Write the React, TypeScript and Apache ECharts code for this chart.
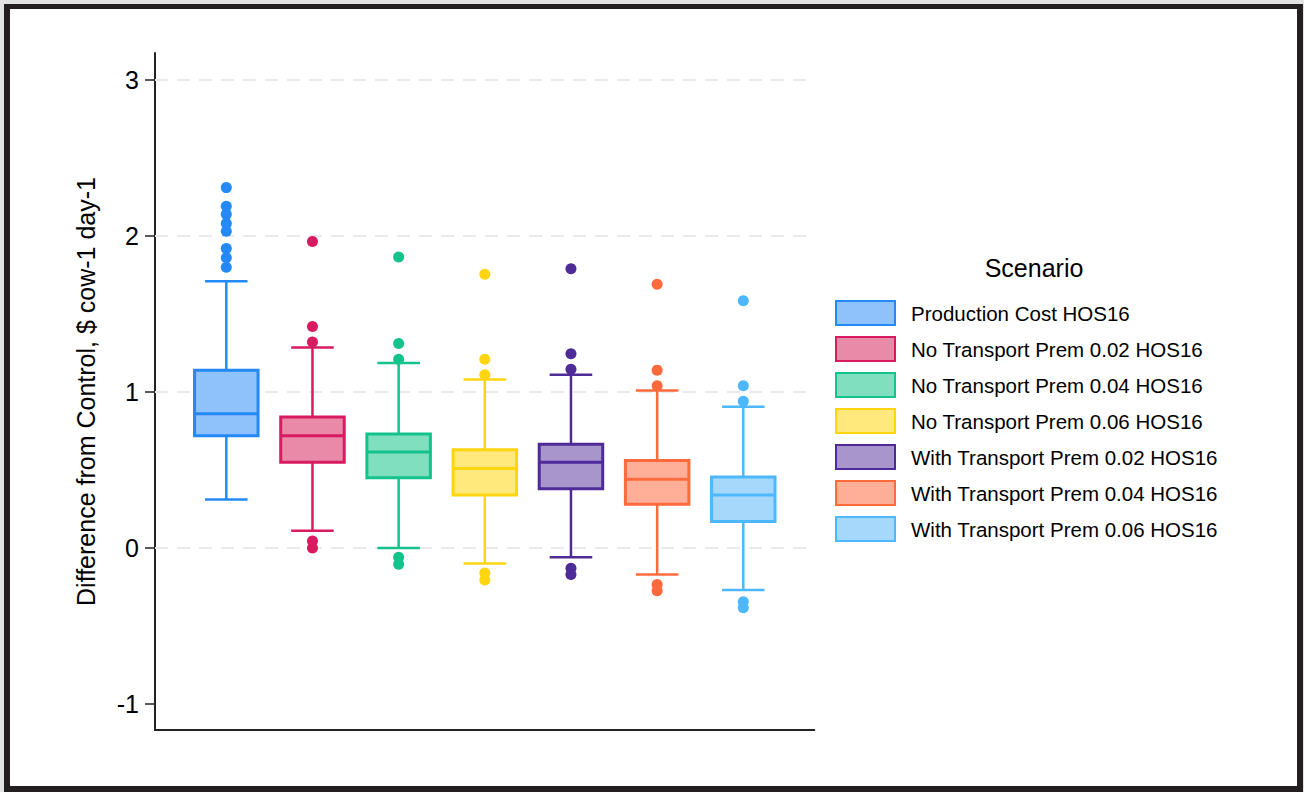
import React, { useEffect, useRef } from "react";
import * as echarts from "echarts";

const categories = [
  "Production Cost HOS16",
  "No Transport Prem 0.02 HOS16",
  "No Transport Prem 0.04 HOS16",
  "No Transport Prem 0.06 HOS16",
  "With Transport Prem 0.02 HOS16",
  "With Transport Prem 0.04 HOS16",
  "With Transport Prem 0.06 HOS16",
];
const boxMin = [0.31, 0.11, 0.0, -0.1, -0.06, -0.17, -0.27];
const boxQ1 = [0.72, 0.55, 0.45, 0.34, 0.38, 0.28, 0.17];
const boxMedian = [0.86, 0.72, 0.615, 0.51, 0.55, 0.44, 0.34];
const boxQ3 = [1.14, 0.84, 0.73, 0.63, 0.665, 0.56, 0.455];
const boxMax = [1.71, 1.285, 1.185, 1.08, 1.11, 1.01, 0.905];
const outliers = [
  [2.31, 2.19, 2.14, 2.08, 2.03, 1.92, 1.86, 1.8],
  [1.965, 1.42, 1.32, 0.045, 0.0],
  [1.865, 1.31, 1.21, -0.06, -0.105],
  [1.755, 1.21, 1.11, -0.16, -0.205],
  [1.79, 1.245, 1.145, -0.13, -0.17],
  [1.69, 1.14, 1.04, -0.235, -0.275],
  [1.585, 1.04, 0.94, -0.345, -0.383],
];
const yTicks = [-1, 0, 1, 2, 3];
const gridValues = [0, 1, 2, 3];
const strokeColors = ["#2389f7", "#d81b60", "#13c38b", "#ffd50f", "#4e2b98", "#ff6a3d", "#4db8ff"];
const fillColors = ["#8fc1fa", "#e88aa8", "#80dfbf", "#ffe97d", "#a795cb", "#ffae98", "#a6d8fc"];

const FONT = '"Liberation Sans", Arial, Helvetica, sans-serif';

export default function App() {
  const ref = useRef<HTMLDivElement>(null);

  useEffect(() => {
    if (!ref.current) return;
    const chart = echarts.init(ref.current, undefined, { renderer: "svg" });

    const series: any[] = [];
    categories.forEach((name, i) => {
      const stroke = strokeColors[i];
      const fill = fillColors[i];
      series.push({
        type: "custom",
        name,
        z: 3,
        dimensions: ["x", "min", "q1", "med", "q3", "max"],
        encode: { x: 0, y: [1, 2, 3, 4, 5] },
        data: [[i, boxMin[i], boxQ1[i], boxMedian[i], boxQ3[i], boxMax[i]]],
        itemStyle: { color: fill, borderColor: stroke },
        renderItem: (params: any, api: any) => {
          const x = api.value(0);
          const pMin = api.coord([x, api.value(1)]);
          const pQ1 = api.coord([x, api.value(2)]);
          const pMed = api.coord([x, api.value(3)]);
          const pQ3 = api.coord([x, api.value(4)]);
          const pMax = api.coord([x, api.value(5)]);
          const unit = api.size([1, 0])[0];
          const bw = unit * 0.737;
          const cw = bw * 0.67;
          const cx = pMin[0];
          const ls = { stroke, lineWidth: 2.5, fill: "none" };
          return {
            type: "group",
            children: [
              { type: "line", shape: { x1: cx, y1: pQ3[1], x2: cx, y2: pMax[1] }, style: ls },
              { type: "line", shape: { x1: cx, y1: pQ1[1], x2: cx, y2: pMin[1] }, style: ls },
              { type: "line", shape: { x1: cx - cw / 2, y1: pMax[1], x2: cx + cw / 2, y2: pMax[1] }, style: ls },
              { type: "line", shape: { x1: cx - cw / 2, y1: pMin[1], x2: cx + cw / 2, y2: pMin[1] }, style: ls },
              {
                type: "rect",
                shape: { x: cx - bw / 2, y: pQ3[1], width: bw, height: pQ1[1] - pQ3[1] },
                style: { fill, stroke, lineWidth: 3 },
              },
              { type: "line", shape: { x1: cx - bw / 2, y1: pMed[1], x2: cx + bw / 2, y2: pMed[1] }, style: { stroke, lineWidth: 3 } },
            ],
          };
        },
      });
      const sc: any = {
        type: "scatter",
        name,
        z: 4,
        symbol: "circle",
        symbolSize: 11,
        itemStyle: { color: stroke, opacity: 1 },
        data: outliers[i].map((v) => [i, v]),
      };
      if (i === 0) {
        sc.markLine = {
          silent: true,
          z: 1,
          symbol: ["none", "none"],
          label: { show: false },
          lineStyle: { type: [13, 9], color: "#e9e9e9", width: 2 },
          data: gridValues.map((v) => ({ yAxis: v })),
        };
      }
      series.push(sc);
    });

    chart.setOption({
      animation: false,
      backgroundColor: "transparent",
      textStyle: { fontFamily: FONT },
      grid: { left: 155, top: 53, width: 659.3, height: 677 },
      xAxis: {
        type: "value",
        min: -0.8275,
        max: 6.824,
        axisLine: { show: true, onZero: false, lineStyle: { color: "#222", width: 2 } },
        axisTick: { show: false },
        axisLabel: { show: false },
        splitLine: { show: false },
      },
      yAxis: {
        type: "value",
        min: -1.167,
        max: 3.173,
        name: "Difference from Control, $ cow-1 day-1",
        nameLocation: "middle",
        nameGap: 57,
        nameTextStyle: { fontSize: 25, color: "#000", fontFamily: FONT },
        axisLine: { show: true, onZero: false, lineStyle: { color: "#222", width: 2 } },
        axisTick: { show: true, length: 10, customValues: yTicks, lineStyle: { color: "#222", width: 1.5 } },
        axisLabel: { show: true, customValues: yTicks, margin: 16, fontSize: 25, color: "#000", fontFamily: FONT },
        splitLine: { show: false },
      },
      legend: {
        orient: "vertical",
        left: 835,
        top: 300,
        padding: 0,
        icon: "rect",
        itemWidth: 59,
        itemHeight: 24,
        itemGap: 10,
        selectedMode: false,
        textStyle: { fontSize: 20.5, color: "#000", fontFamily: FONT, padding: [0, 0, 0, 11] },
        data: categories.map((name, i) => ({
          name,
          itemStyle: { color: fillColors[i], borderColor: strokeColors[i], borderWidth: 2 },
        })),
      },
      graphic: [
        {
          type: "text",
          x: 1034,
          y: 268,
          style: {
            text: "Scenario",
            fontSize: 25,
            fontFamily: FONT,
            fill: "#000",
            textAlign: "center",
            textVerticalAlign: "middle",
          },
        },
      ],
      series,
    });

    return () => chart.dispose();
  }, []);

  return (
    <div style={{ position: "fixed", left: 0, top: 0, width: 1304, height: 792, background: "#e2e2e2" }}>
      <div
        style={{
          position: "absolute",
          left: 4,
          top: 4,
          width: 1299,
          height: 788,
          boxSizing: "border-box",
          border: "6px solid #231f20",
          borderTopWidth: 5,
          background: "#fff",
        }}
      />
      <div ref={ref} style={{ position: "absolute", left: 0, top: 0, width: 1304, height: 792 }} />
    </div>
  );
}
